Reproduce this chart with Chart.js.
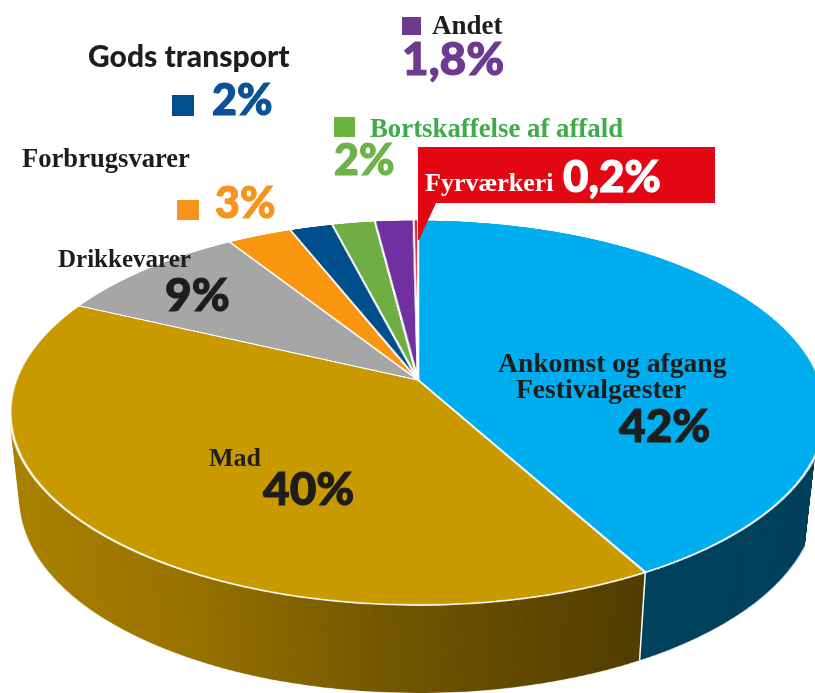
<!DOCTYPE html>
<html><head><meta charset="utf-8">
<script src="https://cdn.jsdelivr.net/npm/chart.js@4.4.0/dist/chart.umd.min.js"></script>
<style>
html,body{margin:0;padding:0;background:#fff;}
#wrap{position:relative;width:815px;height:693px;overflow:hidden;}
#c{position:absolute;left:0;top:0;}
.lbl{position:absolute;white-space:nowrap;line-height:1;margin:0;padding:0;}
.heavy{-webkit-text-stroke:1.1px currentColor;}
.sq{position:absolute;}
#fyr{position:absolute;left:418px;top:147px;width:297px;height:93px;background:#e30613;
 clip-path:polygon(0 0,297px 0,297px 56px,18px 56px,1px 93px,0 93px);}
</style></head>
<body><div id="wrap"><canvas id="c" width="815" height="693"></canvas><div id="fyr"></div></div>
<script>
// ---- data ----
const categories = ['Ankomst og afgang Festivalgæster','Mad','Drikkevarer','Forbrugsvarer','Gods transport','Bortskaffelse af affald','Andet','Fyrværkeri'];
const values = [42, 40, 9, 3, 2, 2, 1.8, 0.2];
const sliceColors = ['#00aeef','#c99a00','#a6a6a6','#f9960f','#004f8d','#6fae45','#7030a0','#e3051b'];
const sideColors = ['#00445f','#6e5400','#6b6b6b','#a85f00','#002f55','#456e2a','#451e63','#8a0010'];
const madSideStops = ['#ae8600','#9a7400','#6f5400','#4e3b00','#3d2f00'];

// ---- perspective geometry of the tilted pie (screen px) ----
const P = {cx: 418, c: 402, top: 220, apex: 380, bottom: 605, depth: 88, narrow: 0.025};
const K = (2 * P.apex - P.top - P.bottom) / (P.bottom - P.top);
const A = P.apex - P.top + P.top * K;
const B0 = P.apex;
function proj(u, v) {
  const w = 1 + K * v;
  return {x: P.cx + P.c * u / w, y: (A * v + B0) / w};
}
function vOfY(y) { return (B0 - y) / (K * y - A); }

const S = 410, RS = 400; // flat offscreen circle
function makeCanvas(w, h) { const c = document.createElement('canvas'); c.width = w; c.height = h; return c; }

function drawFlat(meta, styler) {
  const cv = makeCanvas(2 * S, 2 * S);
  const ctx = cv.getContext('2d');
  meta.data.forEach((el, i) => {
    const p = el.getProps(['x','y','outerRadius'], true);
    const o = el.options;
    ctx.save();
    ctx.translate(S, S);
    ctx.scale(RS / p.outerRadius, RS / p.outerRadius);
    ctx.translate(-p.x, -p.y);
    const over = styler(i, ctx, p);
    if (over) el.options = Object.assign({}, o, over);
    el.draw(ctx);
    el.options = o;
    ctx.restore();
  });
  return cv;
}

function warp(src, W, H) {
  const dst = makeCanvas(W, H);
  const ctx = dst.getContext('2d');
  ctx.imageSmoothingEnabled = true;
  for (let y = Math.floor(P.top) - 1; y <= Math.ceil(P.bottom) + 1; y++) {
    const v = vOfY(y + 0.5);
    if (v < -1.01 || v > 1.01) continue;
    const v0 = vOfY(y), v1 = vOfY(y + 1);
    const sh = Math.max(0.5, Math.abs(v1 - v0) * RS);
    let sy = S + v * RS - sh / 2;
    sy = Math.max(0, Math.min(2 * S - sh, sy));
    const scale = P.c / (1 + K * v) / RS;
    const dx = P.cx - S * scale;
    ctx.drawImage(src, 0, sy, 2 * S, sh, dx, y, 2 * S * scale, 1);
  }
  return dst;
}

const pie3d = {
  id: 'pie3d',
  beforeDatasetsDraw(chart) {
    const ctx = chart.ctx;
    const meta = chart.getDatasetMeta(0);
    const W = chart.width, H = chart.height;
    // side (extrusion) colours
    const sideFlat = drawFlat(meta, (i, c, p) => {
      let bg = sideColors[i];
      if (i === 1) {
        const g = c.createLinearGradient(p.x - p.outerRadius, 0, p.x + p.outerRadius, 0);
        [0, 0.25, 0.5, 0.78, 1].forEach((s, k) => g.addColorStop(s, madSideStops[k]));
        bg = g;
      }
      return {backgroundColor: bg, borderWidth: 0};
    });
    const topFlat = drawFlat(meta, () => null);
    const sideImg = warp(sideFlat, W, H);
    const topImg = warp(topFlat, W, H);
    for (let d = P.depth; d >= 1; d--) {
      const s = 1 - P.narrow * d / P.depth;
      ctx.drawImage(sideImg, P.cx - P.cx * s, d, W * s, H);
    }
    // seams between side faces
    meta.data.forEach(el => {
      const a = el.getProps(['startAngle'], true).startAngle;
      if (Math.sin(a) > 0.02) {
        const p = proj(Math.cos(a), Math.sin(a));
        const xb = P.cx + (p.x - P.cx) * (1 - P.narrow);
        ctx.save();
        ctx.strokeStyle = '#ffffff';
        ctx.lineWidth = 1.5;
        ctx.beginPath();
        ctx.moveTo(p.x, p.y);
        ctx.lineTo(xb, p.y + P.depth);
        ctx.stroke();
        ctx.restore();
      }
    });
    ctx.drawImage(topImg, 0, 0);
    return false;
  }
};

new Chart(document.getElementById('c'), {
  type: 'pie',
  data: {
    labels: categories,
    datasets: [{
      data: values,
      backgroundColor: sliceColors,
      borderColor: '#ffffff',
      borderWidth: 2,
      clip: false
    }]
  },
  options: {
    responsive: false,
    animation: false,
    events: [],
    layout: {padding: 0},
    plugins: {legend: {display: false}, tooltip: {enabled: false}}
  },
  plugins: [pie3d]
});

// ---- labels (real text) ----
const pct = v => String(v).replace('.', ',') + '%';
const wrap = document.getElementById('wrap');
const SERIF = '"Liberation Serif","DejaVu Serif",serif';
const SANS = '"Lato Black",Lato,"DejaVu Sans",sans-serif';
function addText(txt, x, base, size, color, serif, weight) {
  const d = document.createElement('div');
  d.className = 'lbl' + (!serif && !weight ? ' heavy' : '');
  d.textContent = txt;
  const asc = serif ? 0.838 : 0.887;
  d.style.left = x + 'px';
  d.style.top = (base - asc * size) + 'px';
  d.style.fontSize = size + 'px';
  d.style.color = color;
  d.style.fontFamily = serif ? SERIF : SANS;
  d.style.fontWeight = weight || (serif ? 700 : 900);
  wrap.appendChild(d);
  return d;
}
function addSquare(x, y, w, h, color) {
  const d = document.createElement('div');
  d.className = 'sq';
  Object.assign(d.style, {left: x + 'px', top: y + 'px', width: w + 'px', height: h + 'px', background: color});
  wrap.appendChild(d);
}
const DARK = '#1d1d1b';
// Ankomst
addText('Ankomst og afgang', 498, 372, 27.6, DARK, true);
addText('Festivalgæster', 516, 398, 27.6, DARK, true);
addText(pct(values[0]), 619, 443, 46, DARK, false);
// Mad
addText(categories[1], 209, 467, 26, DARK, true);
addText(pct(values[1]), 263, 506, 46, DARK, false);
// Drikkevarer
addText(categories[2], 58, 267, 25, DARK, true);
addText(pct(values[2]), 165, 312, 46, DARK, false);
// Forbrugsvarer
addText(categories[3], 22, 167, 26.6, DARK, true);
addSquare(177, 200, 22, 20, '#f7941d');
addText(pct(values[3]), 215, 218, 43, '#f7941d', false);
// Gods transport
addText(categories[4], 88, 67, 30, DARK, false, 700);
addSquare(172, 95, 22, 21, '#00508f');
addText(pct(values[4]), 212, 115, 43, '#0b5196', false);
// Bortskaffelse
addSquare(334, 117, 21, 20, '#6db33f');
addText(categories[5], 370, 137, 26.8, '#3fab4a', true);
addText(pct(values[5]), 334, 175, 43, '#6db34a', false);
// Andet
addSquare(402, 17, 19, 18, '#6c3a8f');
addText(categories[6], 432, 35, 27, DARK, true);
addText(pct(values[6]), 402, 76, 46, '#6c3a8f', false);
// Fyrværkeri
addText(categories[7], 425, 192, 26, '#ffffff', true);
addText(pct(values[7]), 563, 192, 44, '#ffffff', false);
</script>
</body></html>
